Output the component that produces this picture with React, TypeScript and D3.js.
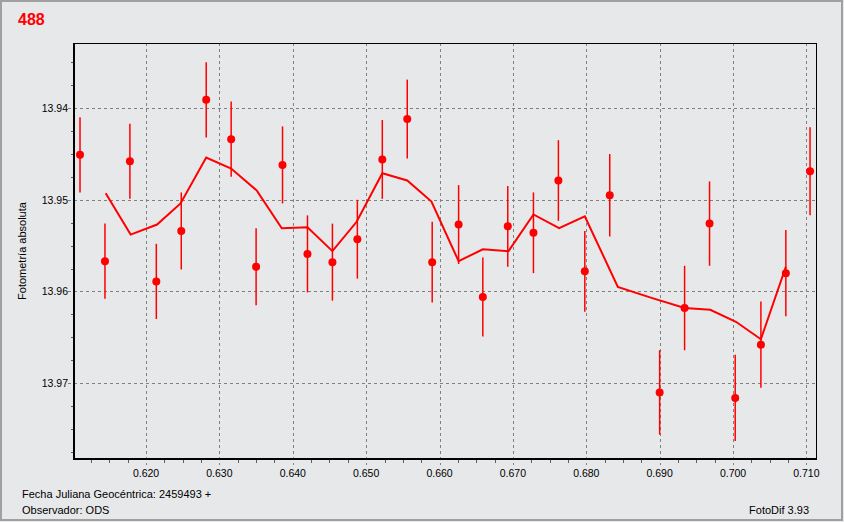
import * as d3 from "d3";
import {useEffect, useRef} from "react";

// observations (fraction of JD, magnitude, error)
const obsJD = [0.6110, 0.6144, 0.6178, 0.6214, 0.6248, 0.6282, 0.6316, 0.6350, 0.6386, 0.6420,
    0.6454, 0.6488, 0.6522, 0.6556, 0.6590, 0.6626, 0.6659, 0.6693, 0.6728, 0.6762,
    0.6798, 0.6832, 0.6900, 0.6934, 0.6968, 0.7003, 0.7038, 0.7072, 0.7105];
const obsMag = [13.9451, 13.9567, 13.9458, 13.9589, 13.9534, 13.9391, 13.9434, 13.9573, 13.9462, 13.9559,
    13.9568, 13.9543, 13.9456, 13.9412, 13.9568, 13.9527, 13.9606, 13.9529, 13.9536, 13.9479,
    13.9578, 13.9495, 13.9710, 13.9618, 13.9526, 13.9716, 13.9658, 13.9580, 13.9469];
const obsErr = [0.0041, 0.0041, 0.0041, 0.0041, 0.0042, 0.0041, 0.0041, 0.0042, 0.0042, 0.0042,
    0.0042, 0.0043, 0.0043, 0.0043, 0.0044, 0.0043, 0.0043, 0.0044, 0.0044, 0.0044,
    0.0044, 0.0045, 0.0046, 0.0046, 0.0046, 0.0047, 0.0047, 0.0047, 0.0048];

// smoothed curve
const meanJD = [0.6145, 0.6179, 0.6215, 0.6247, 0.6282, 0.6316, 0.6351, 0.6385, 0.6420, 0.6454,
    0.6487, 0.6522, 0.6556, 0.6589, 0.6626, 0.6659, 0.6694, 0.6728, 0.6763, 0.6798,
    0.6843, 0.6889, 0.6934, 0.6969, 0.7004, 0.7038, 0.7072];
const meanMag = [13.9493, 13.9538, 13.9527, 13.9504, 13.9454, 13.9466, 13.9490, 13.9531, 13.9530, 13.9556,
    13.9524, 13.9471, 13.9479, 13.9502, 13.9567, 13.9554, 13.9556, 13.9516, 13.9531, 13.9518,
    13.9595, 13.9607, 13.9618, 13.9620, 13.9633, 13.9652, 13.9573];

const xTicks = [0.62, 0.63, 0.64, 0.65, 0.66, 0.67, 0.68, 0.69, 0.70, 0.71];
const yTicks = [13.94, 13.95, 13.96, 13.97];

const title = "488";
const yTitle = "Fotometría absoluta";
const footLeft1 = "Fecha Juliana Geocéntrica: 2459493 +";
const footLeft2 = "Observador: ODS";
const footRight = "FotoDif 3.93";

export default function App() {
    const svgRef = useRef(null);
    const width = 844, height = 522;
    const margin = {top: 43, right: 28, bottom: 63, left: 74};
    const font = "'Liberation Sans', Arial, sans-serif";

    useEffect(() => {
        if (!svgRef.current) return;
        const svg = d3.select(svgRef.current);
        svg.selectAll("*").remove();

        const x0 = margin.left, x1 = width - margin.right;
        const y0 = margin.top, y1 = height - margin.bottom;

        const x = d3.scaleLinear().domain([0.61018, 0.71131]).range([x0, x1]);
        const y = d3.scaleLinear().domain([13.93291, 13.97826]).range([y0, y1]);

        svg.append("rect").attr("x", 0).attr("y", 0).attr("width", width).attr("height", height)
            .attr("fill", "#e7e8ea");
        svg.append("rect").attr("x", 1).attr("y", 1).attr("width", width - 3).attr("height", height - 3)
            .attr("fill", "none").attr("stroke", "#a0a0a0").attr("stroke-width", 2);

        // grid + major ticks (dashed, run past the axes)
        const grid = svg.append("g").attr("stroke", "#808080").attr("stroke-dasharray", "3,3");
        xTicks.forEach(t => {
            grid.append("line").attr("x1", Math.round(x(t)) + 0.5).attr("x2", Math.round(x(t)) + 0.5)
                .attr("y1", y0).attr("y2", y1 + 6);
        });
        yTicks.forEach(t => {
            grid.append("line").attr("y1", Math.round(y(t)) + 0.5).attr("y2", Math.round(y(t)) + 0.5)
                .attr("x1", x0 - 6).attr("x2", x1);
        });

        // minor ticks
        const xMinor = d3.range(0.6125, 0.7114, 0.0025).filter(v => !xTicks.some(t => Math.abs(t - v) < 1e-6));
        const yMinor = d3.range(13.935, 13.978, 0.0025).filter(v => !yTicks.some(t => Math.abs(t - v) < 1e-6));
        const minor = svg.append("g").attr("stroke", "#606060");
        xMinor.forEach(t => {
            minor.append("line").attr("x1", Math.round(x(t)) + 0.5).attr("x2", Math.round(x(t)) + 0.5)
                .attr("y1", y1).attr("y2", y1 + 4);
        });
        yMinor.forEach(t => {
            minor.append("line").attr("y1", Math.round(y(t)) + 0.5).attr("y2", Math.round(y(t)) + 0.5)
                .attr("x1", x0 - 3).attr("x2", x0);
        });

        // frame
        svg.append("line").attr("x1", x0).attr("x2", x1 + 1).attr("y1", y0 + 0.5).attr("y2", y0 + 0.5)
            .attr("stroke", "#000");
        svg.append("line").attr("x1", x1 + 0.5).attr("x2", x1 + 0.5).attr("y1", y0).attr("y2", y1)
            .attr("stroke", "#000");
        svg.append("line").attr("x1", x0).attr("x2", x0).attr("y1", y0).attr("y2", y1 + 1)
            .attr("stroke", "#000").attr("stroke-width", 2);
        svg.append("line").attr("x1", x0 - 1).attr("x2", x1 + 1).attr("y1", y1).attr("y2", y1)
            .attr("stroke", "#000").attr("stroke-width", 2);

        // tick labels
        svg.append("g").selectAll("text").data(xTicks).join("text")
            .attr("x", d => x(d)).attr("y", y1 + 18)
            .attr("text-anchor", "middle")
            .attr("font-family", font).attr("font-size", 10.5).attr("fill", "#000")
            .text(d => d.toFixed(3));
        svg.append("g").selectAll("text").data(yTicks).join("text")
            .attr("x", x0 - 6).attr("y", d => y(d) + 4)
            .attr("text-anchor", "end")
            .attr("font-family", font).attr("font-size", 10.5).attr("fill", "#000")
            .text(d => d.toFixed(2));

        // error bars
        svg.append("g").selectAll("line").data(obsJD).join("line")
            .attr("x1", d => x(d)).attr("x2", d => x(d))
            .attr("y1", (d, i) => y(obsMag[i] - obsErr[i]))
            .attr("y2", (d, i) => y(obsMag[i] + obsErr[i]))
            .attr("stroke", "#ff0000").attr("stroke-width", 1.5);

        // smoothed line
        const line = d3.line<number>().x(d => x(d)).y((d, i) => y(meanMag[i]));
        svg.append("path").attr("d", line(meanJD))
            .attr("fill", "none").attr("stroke", "#ff0000").attr("stroke-width", 2);

        // points
        svg.append("g").selectAll("circle").data(obsJD).join("circle")
            .attr("cx", d => x(d)).attr("cy", (d, i) => y(obsMag[i]))
            .attr("r", 4).attr("fill", "#ff0000");

        // texts
        svg.append("text").attr("x", 18).attr("y", 25)
            .attr("font-family", font).attr("font-size", 16).attr("font-weight", "bold")
            .attr("fill", "#ff0000").text(title);
        svg.append("text")
            .attr("transform", `translate(26,${(y0 + y1) / 2}) rotate(-90)`)
            .attr("text-anchor", "middle")
            .attr("font-family", font).attr("font-size", 11).attr("fill", "#000")
            .text(yTitle);
        svg.append("text").attr("x", 22).attr("y", 498)
            .attr("font-family", font).attr("font-size", 11).attr("fill", "#000").text(footLeft1);
        svg.append("text").attr("x", 22).attr("y", 514)
            .attr("font-family", font).attr("font-size", 11).attr("fill", "#000").text(footLeft2);
        svg.append("text").attr("x", 809).attr("y", 514).attr("text-anchor", "end")
            .attr("font-family", font).attr("font-size", 11).attr("fill", "#000").text(footRight);
    }, []);

    return (
        <div style={{position: "absolute", left: 0, top: 0}}>
            <svg ref={svgRef} width={width} height={height} style={{display: "block"}}></svg>
        </div>
    );
}
